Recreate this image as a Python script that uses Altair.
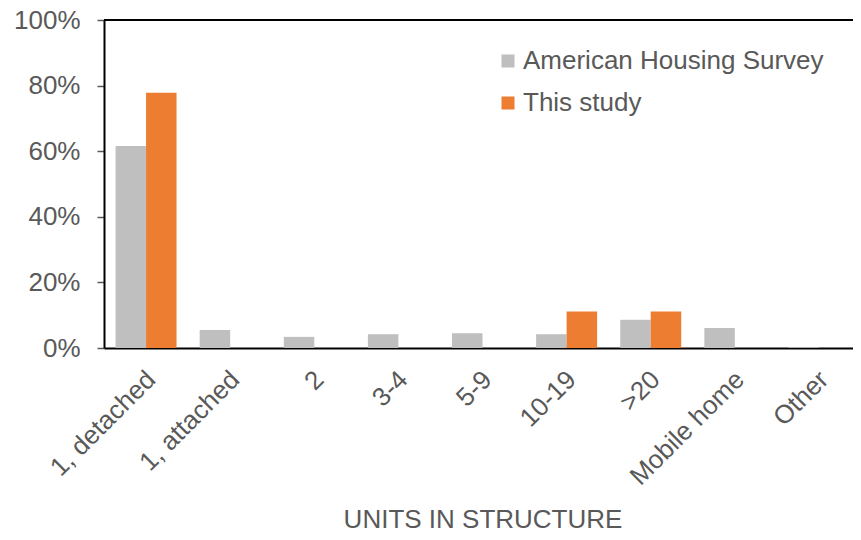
import altair as alt
import pandas as pd

categories = ["1, detached", "1, attached", "2", "3-4", "5-9", "10-19", ">20", "Mobile home", "Other"]
series = ["American Housing Survey", "This study"]
ahs = [61.6, 5.5, 3.4, 4.2, 4.5, 4.2, 8.6, 6.1, 0.2]
study = [77.8, 0, 0, 0, 0, 11.1, 11.1, 0, 0]
y_ticks = [0, 0.2, 0.4, 0.6, 0.8, 1.0]
colors = ["#BFBFBF", "#ED7D31"]

rows = []
for c, a, s in zip(categories, ahs, study):
    rows.append({"cat": c, "series": series[0], "value": a / 100})
    rows.append({"cat": c, "series": series[1], "value": s / 100})
df = pd.DataFrame(rows)

FONT = "Liberation Sans"
GREY = "#595959"

bars = alt.Chart(df).mark_bar().encode(
    x=alt.X("cat:N", sort=categories,
            scale=alt.Scale(paddingInner=0.275, paddingOuter=0.1375),
            axis=alt.Axis(title="UNITS IN STRUCTURE", labelAngle=-45, labelAlign="right",
                          labelBaseline="top", ticks=False, labelPadding=18, labelOffset=-4,
                          labelFontSize=26, labelColor=GREY, labelFont=FONT,
                          titleFontSize=26, titleColor=GREY, titleFont=FONT,
                          titleFontWeight="normal", titleY=171, titleBaseline="middle",
                          domainColor="black", domainWidth=2)),
    xOffset=alt.XOffset("series:N", sort=series),
    y=alt.Y("value:Q", scale=alt.Scale(domain=[0, 1], nice=False),
            axis=alt.Axis(title=None, values=y_ticks, format=".0%", grid=False,
                          labelFontSize=26, labelColor=GREY, labelFont=FONT,
                          tickSize=7, tickColor=GREY, tickWidth=1.5, labelPadding=17,
                          domainColor="black", domainWidth=2)),
    color=alt.Color("series:N", sort=series,
                    scale=alt.Scale(domain=series, range=colors),
                    legend=alt.Legend(title=None, orient="none", legendX=391, legendY=28,
                                      symbolType="square", symbolSize=169, symbolStrokeWidth=0,
                                      labelFontSize=26, labelColor=GREY, labelFont=FONT,
                                      labelLimit=0, rowPadding=16, labelOffset=2)),
)

top_line = alt.Chart(pd.DataFrame({"y": [1.0]})).mark_rule(color="black", strokeWidth=2).encode(
    y=alt.Y("y:Q")
)

chart = alt.layer(bars, top_line).properties(
    width=757, height=328,
    padding={"left": 96, "top": 12, "right": -8, "bottom": 184},
    autosize=alt.AutoSizeParams(type="none"),
).configure_view(stroke=None)

chart.save("out.html", embed_options={"renderer": "svg", "actions": False})
